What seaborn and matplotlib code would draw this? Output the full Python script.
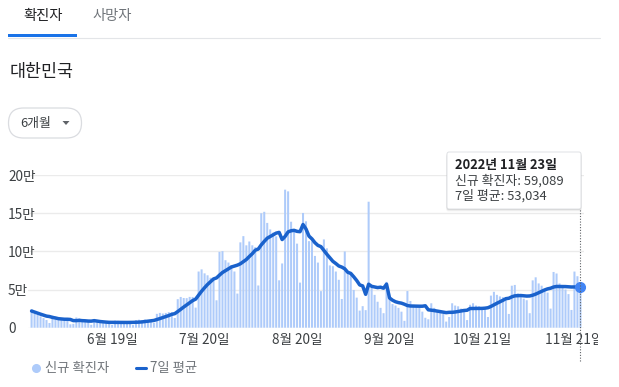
import numpy as np
import pandas as pd
import seaborn as sns
import matplotlib.pyplot as plt
from matplotlib.patches import FancyBboxPatch, Rectangle, Polygon
from matplotlib.lines import Line2D
from matplotlib.transforms import IdentityTransform, Bbox, TransformedBbox

# daily new cases, 2022-05-23 .. 2022-11-23 (one value per day)
start_date = '2022-05-23'
cases_before_start = [28000, 26500, 24000, 21500, 19000, 9975]  # May 17-22, only feeds the 7-day mean
new_cases = [
    23956, 18305, 16584, 14899, 12535, 10061, 6141,       # May 23
    15797, 13358, 9896, 12542, 9832, 9830, 4425,          # May 30
    5022, 13358, 12155, 10000, 8440, 7382, 3828,          # Jun 6
    9434, 9314, 7995, 7199, 6068, 5344, 3530,             # Jun 13
    9305, 9008, 7495, 7224, 6246, 6239, 3423,             # Jun 20
    9896, 10463, 9528, 10715, 10059, 9539, 6253,          # Jun 27
    18147, 19371, 18511, 19323, 20410, 20383, 12693,      # Jul 4
    37360, 40266, 38882, 38691, 40342, 40252, 26299,      # Jul 11
    73582, 76402, 71170, 68632, 65433, 65373, 35883,      # Jul 18
    99327, 100285, 88384, 85320, 81987, 73589, 44689,     # Jul 25
    111789, 119922, 107894, 112901, 107916, 105507, 55292,  # Aug 1
    149897, 151792, 137241, 128714, 124592, 119603, 62078,  # Aug 8
    84128, 180803, 178574, 138812, 128741, 110100, 59046,   # Aug 15
    150267, 139339, 113371, 113140, 94000, 85295, 47897,    # Aug 22
    115615, 103961, 81573, 80508, 73579, 62738, 37597,      # Aug 29
    99837, 72175, 71444, 49408, 39400, 22402, 28214,        # Sep 5
    23000, 165000, 52000, 43000, 34000, 26000, 19000,       # Sep 12
    60000, 39000, 31000, 29000, 26000, 21000, 9000,         # Sep 19
    48000, 35000, 30000, 28000, 26000, 21000, 13000,        # Sep 26
    11000, 32000, 26000, 23000, 20000, 18000, 8000,         # Oct 3
    14000, 32000, 29000, 28000, 25000, 22000, 10000,        # Oct 10
    30000, 32000, 29000, 28000, 26000, 24000, 14000,        # Oct 17
    42000, 47000, 43000, 41000, 40000, 39000, 18000,        # Oct 24
    55000, 56000, 45000, 42000, 38000, 36000, 19000,        # Oct 31
    62000, 66000, 58000, 55000, 50000, 46000, 25000,        # Nov 7
    73000, 71000, 58000, 54000, 50000, 44000, 23216,        # Nov 14
    73518, 67415, 59089,                                    # Nov 21
]

tick_dates = ['2022-06-19', '2022-07-20', '2022-08-20', '2022-09-20', '2022-10-21', '2022-11-21']
tick_labels = ['6월 19일', '7월 20일', '8월 20일', '9월 20일', '10월 21일', '11월 21일']
y_ticks = [0, 50000, 100000, 150000, 200000]
y_labels = ['0', '5만', '10만', '15만', '20만']

BAR = '#aecbfa'
LINE = '#1a62cc'
DARK = '#202124'
GREY = '#70757a'

sns.set_style('white')
plt.rcParams['font.family'] = ['Noto Sans CJK KR', 'DejaVu Sans']

dates = pd.date_range(start_date, periods=len(new_cases))
df = pd.DataFrame({'day': np.arange(len(new_cases)), 'cases': new_cases})
df['avg'] = pd.Series(cases_before_start + new_cases).rolling(7).mean().iloc[len(cases_before_start):].to_numpy()

W, H = 619, 387
fig = plt.figure(figsize=(W / 100, H / 100), dpi=100)
px = IdentityTransform()

def P(x, y):
    return (x, H - y)

ax = fig.add_axes([28 / W, 1 - 327.7 / H, (584 - 28) / W, (327.7 - 175) / H])

sns.barplot(data=df, x='day', y='cases', color=BAR, saturation=1, width=0.68,
            ax=ax, zorder=2, snap=False, linewidth=0)
sns.lineplot(data=df, x='day', y='avg', color=LINE, lw=2.5, ax=ax, zorder=3)

last = df.iloc[-1]
ax.plot(last['day'], last['avg'], 'o', ms=7, color='#4285f4', zorder=4, clip_on=False)
ax.axvline(last['day'], ymin=-0.22, ymax=0.775, color='#5f6368', lw=0.8,
           ls=(0, (1, 1.5)), clip_on=False, zorder=5)

ax.set_xlim(-1.2, len(new_cases) - 1 + 1.2)
ax.set_ylim(0, 200000)
ax.set_yticks(y_ticks)
ax.set_yticklabels(y_labels)
ax.set_xticks([dates.get_loc(pd.Timestamp(d)) for d in tick_dates])
ax.set_xticklabels(tick_labels)
ax.set_xlabel('')
ax.set_ylabel('')
ax.grid(axis='y', color='#ebebeb', lw=1)
ax.grid(axis='x', visible=False)
ax.set_axisbelow(True)
sns.despine(ax=ax, left=True, bottom=True)
ax.tick_params(axis='y', length=0, pad=14.4, labelsize=9.8, labelcolor='#3c4043')
ax.tick_params(axis='x', length=0, pad=4, labelsize=9.8, labelcolor='#3c4043')
for lab in ax.get_yticklabels():
    lab.set_ha('left')
clip = TransformedBbox(Bbox([[0, 0], [598 / W, 1]]), fig.transFigure)
for lab in ax.get_xticklabels():
    lab.set_clip_box(clip)
    lab.set_clip_on(True)

# tabs
fig.text(*P(43, 16), '확진자', transform=px, ha='center', va='center', fontsize=10.3, color=DARK)
fig.text(*P(112, 16), '사망자', transform=px, ha='center', va='center', fontsize=10.3, color=GREY)
fig.add_artist(Line2D([8, 600], [H - 37.5, H - 37.5], transform=px, color='#e3e5e8', lw=0.8))
fig.add_artist(Rectangle(P(8, 37), 69, 3, transform=px, color='#1a73e8', lw=0))

# region title
fig.text(*P(10, 72), '대한민국', transform=px, ha='left', va='center', fontsize=12.5, color=DARK)

# period selector
fig.add_artist(FancyBboxPatch(P(8.5, 138), 73, 30, transform=px,
                              boxstyle='round,pad=0,rounding_size=15',
                              fc='white', ec='#dadce0', lw=0.9))
fig.text(*P(20, 123), '6개월', transform=px, ha='left', va='center', fontsize=9.3, color='#3c4043')
fig.add_artist(Polygon([P(62.5, 121), P(69.5, 121), P(66, 125)], transform=px,
                       closed=True, fc='#5f6368', ec='none'))

# tooltip
for off, a in [(2.5, 0.04), (1.5, 0.06), (0.8, 0.08)]:
    fig.add_artist(FancyBboxPatch(P(447 - off * 0.3, 209 + off), 134 + off * 0.6, 57, transform=px,
                                  boxstyle='round,pad=0,rounding_size=2',
                                  fc='#000000', alpha=a, ec='none'))
fig.add_artist(FancyBboxPatch(P(447, 209), 134, 57, transform=px,
                              boxstyle='round,pad=0,rounding_size=2',
                              fc='white', ec='#dadce0', lw=0.6))
fig.text(*P(455, 164.5), '2022년 11월 23일', transform=px, ha='left', va='center',
         fontsize=9.3, fontweight='bold', color=DARK)
fig.text(*P(455, 180.5), f'신규 확진자: {int(last["cases"]):,}', transform=px, ha='left',
         va='center', fontsize=9.3, color='#3c4043')
fig.text(*P(455, 196), f'7일 평균: {last["avg"]:,.0f}', transform=px, ha='left',
         va='center', fontsize=9.3, color='#3c4043')

# legend
fig.add_artist(Line2D([36], [H - 368], transform=px, marker='o', ms=5.5, color=BAR, lw=0))
fig.text(*P(45, 368), '신규 확진자', transform=px, ha='left', va='center', fontsize=9.6, color=GREY)
fig.add_artist(Line2D([136, 146], [H - 368, H - 368], transform=px, color=LINE, lw=2.2))
fig.text(*P(150, 368), '7일 평균', transform=px, ha='left', va='center', fontsize=9.6, color=GREY)

fig.savefig('out.png', dpi=100)
